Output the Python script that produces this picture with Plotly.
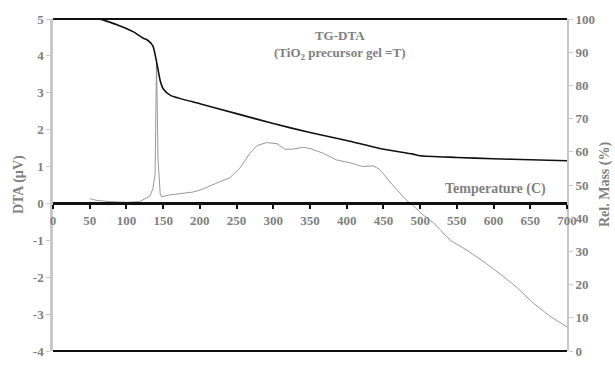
import plotly.graph_objects as go

# TG curve: relative mass (%) versus temperature (C)
tg_temp = [0, 50, 64, 68, 87, 109, 123, 129, 136, 142, 146, 150, 160, 200, 250, 300, 350, 400, 445, 490, 500, 550, 600, 650, 700]
tg_mass = [100, 100, 100, 99.7, 98.3, 96.2, 94.2, 93.6, 91.9, 86.0, 81.4, 79.0, 77.0, 74.5, 71.5, 68.5, 65.8, 63.4, 61.0, 59.3, 58.8, 58.3, 57.9, 57.6, 57.3]

# DTA signal (uV) versus temperature (C)
dta_temp = [50, 60, 78, 100, 118, 125, 132, 136, 139, 141, 143, 146, 148, 159, 191, 200, 241, 255, 268, 278, 291, 305,
            316, 325, 341, 350, 368, 386, 405, 422, 436, 445, 459, 477, 486, 490, 504, 518, 541, 563, 586, 609, 632, 654, 677, 700]
dta_val = [0.13, 0.08, 0.05, 0.03, 0.05, 0.13, 0.2, 0.4, 0.8, 3.9, 1.2, 0.26, 0.18, 0.23, 0.31, 0.36, 0.7, 0.97, 1.36, 1.57, 1.65, 1.62,
           1.47, 1.47, 1.52, 1.49, 1.36, 1.18, 1.1, 1.0, 1.02, 0.92, 0.58, 0.18, 0.0, -0.05, -0.31, -0.52, -1.0, -1.26, -1.57, -1.91, -2.28, -2.7, -3.06, -3.35]

x_ticks = list(range(0, 701, 50))
dta_ticks = list(range(-4, 6))
mass_ticks = list(range(0, 101, 10))

GREY = "#808080"
FONT = "Liberation Serif"


def bold(vals):
    return [f"<b>{v}</b>" for v in vals]


fig = go.Figure()
fig.add_trace(go.Scatter(x=dta_temp, y=dta_val, mode="lines",
                         line=dict(color="#8c8c8c", width=0.9), yaxis="y", showlegend=False))
fig.add_trace(go.Scatter(x=tg_temp, y=tg_mass, mode="lines",
                         line=dict(color="#111111", width=1.6, shape="spline", smoothing=0.6),
                         yaxis="y2", showlegend=False))

tickfont = dict(family=FONT, size=13, color=GREY)

fig.update_layout(
    width=615, height=367,
    margin=dict(l=53, r=48, t=19, b=8),
    paper_bgcolor="white", plot_bgcolor="white",
    xaxis=dict(range=[0, 700], tickvals=x_ticks, ticktext=bold(x_ticks),
               anchor="free", position=4 / 9, showgrid=False, zeroline=False,
               showline=True, linecolor="#111111", linewidth=3,
               ticks="outside", ticklen=4, tickwidth=2, tickcolor="#111111",
               tickfont=tickfont),
    yaxis=dict(range=[-4, 5], tickvals=dta_ticks, ticktext=bold(dta_ticks),
               showgrid=False, zeroline=False,
               showline=True, linecolor="#c8c8c8", linewidth=2.5,
               ticks="outside", ticklen=4, tickcolor="#c8c8c8", tickfont=tickfont),
    yaxis2=dict(range=[0, 100], tickvals=mass_ticks, ticktext=bold(mass_ticks),
                overlaying="y", side="right", showgrid=False, zeroline=False,
                showline=True, linecolor="#c8c8c8", linewidth=2,
                ticks="outside", ticklen=4, tickcolor="#c8c8c8", tickfont=tickfont),
    shapes=[
        dict(type="line", xref="paper", yref="paper", x0=0, x1=1, y0=1, y1=1,
             line=dict(color="#111111", width=2)),
        dict(type="line", xref="paper", yref="paper", x0=0, x1=1, y0=0, y1=0,
             line=dict(color="#111111", width=2)),
    ],
    annotations=[
        dict(text="<b>TG-DTA<br>(TiO<sub>2</sub> precursor gel =T)</b>", xref="paper", yref="paper",
             x=0.558, y=0.98, xanchor="center", yanchor="top", showarrow=False,
             font=dict(family=FONT, size=13, color=GREY)),
        dict(text="<b>Temperature (C)</b>", xref="paper", yref="paper", x=0.86, y=0.487,
             xanchor="center", yanchor="middle", showarrow=False,
             font=dict(family=FONT, size=14, color=GREY)),
        dict(text="<b>DTA (µV)</b>", xref="paper", yref="paper", x=-0.066, y=0.5, textangle=-90,
             xanchor="center", yanchor="middle", showarrow=False,
             font=dict(family=FONT, size=14, color=GREY)),
        dict(text="<b>Rel. Mass (%)</b>", xref="paper", yref="paper", x=1.074, y=0.5, textangle=-90,
             xanchor="center", yanchor="middle", showarrow=False,
             font=dict(family=FONT, size=14, color=GREY)),
    ],
)

fig.write_html("out.html")
